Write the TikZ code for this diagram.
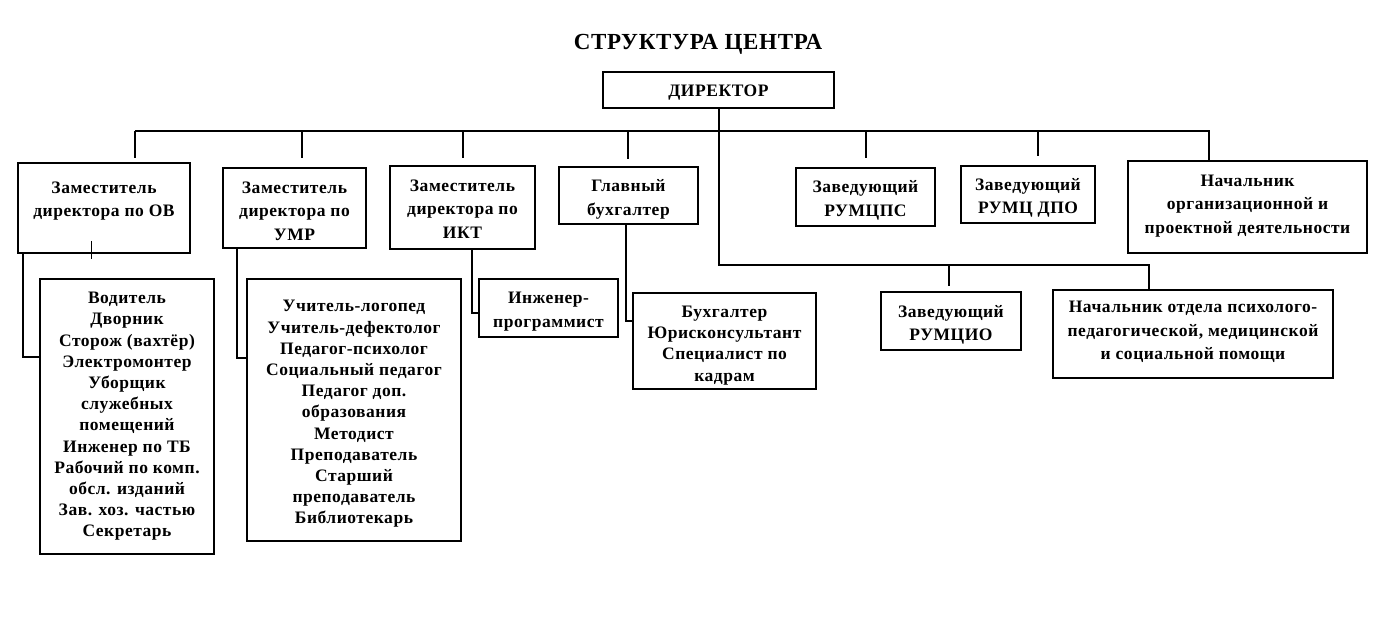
\documentclass[tikz,border=0pt]{standalone}
\usepackage{fontspec}
\setmainfont{Liberation Serif}[LetterSpace=3]
\begin{document}
\begin{tikzpicture}[x=1pt,y=-1pt,
  box/.style={draw, line width=1.6pt, inner sep=0pt},
  txt/.style={align=center, inner sep=0pt, font=\bfseries\fontsize{17.5}{23.5}\selectfont},
  ltxt/.style={txt, font=\bfseries\fontsize{17.5}{21.2}\selectfont},
  ln/.style={line width=1.6pt}]
\useasboundingbox (0,0) rectangle (1392,617);
\node[font=\bfseries\fontsize{23}{27}\selectfont, inner sep=0pt] (title) at (698,44) {СТРУКТУРА ЦЕНТРА};
% boxes
\node[box, minimum width=231pt, minimum height=36pt] (dir) at (718.5,90) {};
\node[box, minimum width=172pt, minimum height=90pt] (ov) at (104,208) {};
\node[box, minimum width=143pt, minimum height=80pt] (umr) at (294.5,208) {};
\node[box, minimum width=145pt, minimum height=83pt] (ikt) at (462.5,207.5) {};
\node[box, minimum width=139pt, minimum height=57pt] (gb) at (628.5,195.5) {};
\node[box, minimum width=139pt, minimum height=58pt] (rps) at (865.5,197) {};
\node[box, minimum width=134pt, minimum height=57pt] (dpo) at (1028,194.5) {};
\node[box, minimum width=239pt, minimum height=92pt] (nor) at (1247.5,207) {};
\node[box, minimum width=140pt, minimum height=58pt] (rio) at (951,321) {};
\node[box, minimum width=280pt, minimum height=88pt] (nop) at (1193,334) {};
\node[box, minimum width=174pt, minimum height=275pt] (vod) at (127,416.5) {};
\node[box, minimum width=214pt, minimum height=262pt] (uch) at (354,410) {};
\node[box, minimum width=139pt, minimum height=58pt] (ing) at (548.5,308) {};
\node[box, minimum width=183pt, minimum height=96pt] (buh) at (724.5,341) {};
% texts
\node[txt] (dirT) at ([yshift=-3pt]dir.center) {ДИРЕКТОР};
\node[txt] (ovT) at ([yshift=7pt]ov.center) {Заместитель\\директора по ОВ};
\node[txt] (umrT) at ([yshift=-3pt]umr.center) {Заместитель\\директора по\\УМР};
\node[txt] (iktT) at ([yshift=-1.5pt]ikt.center) {Заместитель\\директора по\\ИКТ};
\node[txt] (gbT) at ([yshift=-4pt]gb.center) {Главный\\бухгалтер};
\node[txt] (rpsT) at ([yshift=-3.5pt]rps.center) {Заведующий\\РУМЦПС};
\node[txt] (dpoT) at ([yshift=-3.5pt]dpo.center) {Заведующий\\РУМЦ ДПО};
\node[txt] (norT) at ([yshift=1pt]nor.center) {Начальник\\организационной и\\проектной деятельности};
\node[txt] (rioT) at ([yshift=-4pt]rio.center) {Заведующий\\РУМЦИО};
\node[txt] (nopT) at ([yshift=2pt]nop.center) {Начальник отдела психолого-\\педагогической, медицинской\\и социальной помощи};
\node[ltxt] (vodT) at (vod.center) {Водитель\\Дворник\\Сторож (вахтёр)\\Электромонтер\\Уборщик\\служебных\\помещений\\Инженер по ТБ\\Рабочий по комп.\\обсл. изданий\\Зав. хоз. частью\\Секретарь};
\node[ltxt] (uchT) at ([yshift=-4pt]uch.center) {Учитель-логопед\\Учитель-дефектолог\\Педагог-психолог\\Социальный педагог\\Педагог доп.\\образования\\Методист\\Преподаватель\\Старший\\преподаватель\\Библиотекарь};
\node[txt] (ingT) at ([yshift=-3.5pt]ing.center) {Инженер-\\программист};
\node[ltxt] (buhT) at ([yshift=-4.5pt]buh.center) {Бухгалтер\\Юрисконсультант\\Специалист по\\кадрам};
% top bus
\coordinate (b1) at (135,131);
\coordinate (b2) at (302,131);
\coordinate (b3) at (463,131);
\coordinate (b4) at (628,131);
\coordinate (b5) at (866,131);
\coordinate (b6) at (1038,131);
\coordinate (b7) at (1209,131);
\draw[ln] (b1) -- (b7) -- (nor.north -| b7);
\path (ov.north -| b1) ++(0,-4) coordinate (e1);
\path (umr.north -| b2) ++(0,-9) coordinate (e2);
\path (ikt.north -| b3) ++(0,-7) coordinate (e3);
\path (gb.north -| b4) ++(0,-7) coordinate (e4);
\path (rps.north -| b5) ++(0,-9) coordinate (e5);
\path (dpo.north -| b6) ++(0,-9) coordinate (e6);
\draw[ln] (b1) -- (e1);
\draw[ln] (b2) -- (e2);
\draw[ln] (b3) -- (e3);
\draw[ln] (b4) -- (e4);
\draw[ln] (b5) -- (e5);
\draw[ln] (b6) -- (e6);
% director stem and lower bus
\coordinate (k1) at (719,265);
\coordinate (k2) at (1149,265);
\coordinate (k3) at (949,265);
\draw[ln] (dir.south -| k1) -- (k1) -- (k2) -- (nop.north -| k2);
\path (rio.north -| k3) ++(0,-5) coordinate (e7);
\draw[ln] (k3) -- (e7);
% sub-branches
\coordinate (s1) at (23,357);
\coordinate (s2) at (237,358);
\coordinate (s3) at (472,313);
\coordinate (s4) at (626,321);
\draw[ln] (ov.south -| s1) -- (s1) -- (vod.west |- s1);
\draw[ln] (umr.south -| s2) -- (s2) -- (uch.west |- s2);
\draw[ln] (ikt.south -| s3) -- (s3) -- (ing.west |- s3);
\draw[ln] (gb.south -| s4) -- (s4) -- (buh.west |- s4);
% small tick in the first box
\coordinate (t1) at (91,241);
\coordinate (t2) at (91,259);
\draw[line width=1pt] (t1) -- (t2);
\end{tikzpicture}
\end{document}
